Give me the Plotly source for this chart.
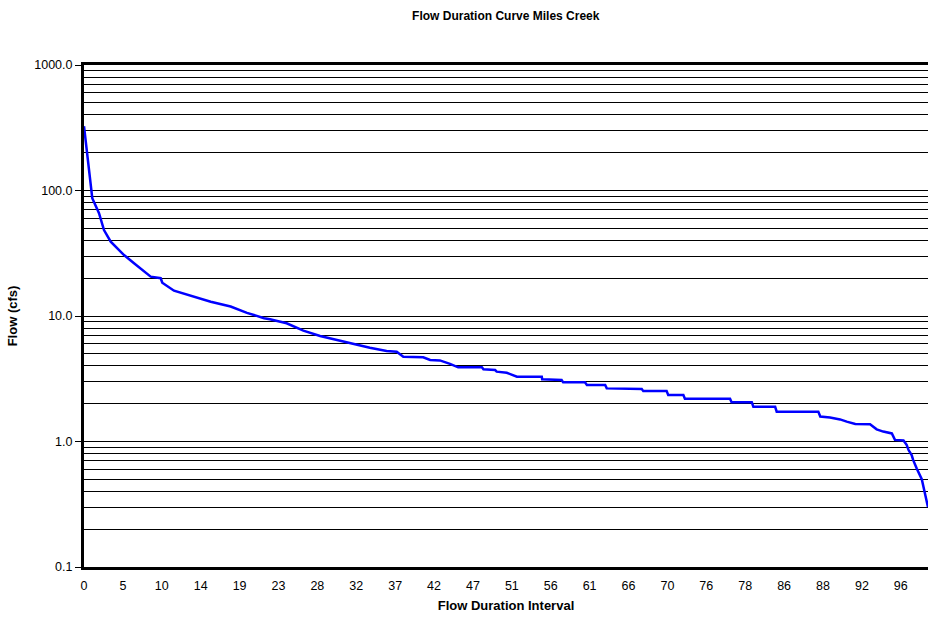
import plotly.graph_objects as go

# Readings of the sorted flow record: position along the ranked series (category index)
interval_index = [0, 0.85, 1.29, 2.13, 3.86, 5.14, 6.87, 10.29, 12.86, 15.43, 17.15, 19.72, 20.13,
                  23.14, 27.44, 32.58, 37.7, 41.9, 46.3, 47.8, 52.1, 56.4, 60.7, 65.0, 69.2, 73.5,
                  77.8, 80.4, 82.1, 87.2, 89.0, 91.5, 94.1, 96.2, 102.3, 102.7, 105.7, 106.1, 108.7,
                  111.3, 117.7, 117.8, 122.8, 123.2, 128.8, 129.3, 134.0, 134.4, 143.4, 143.8, 149.8,
                  150.2, 154.1, 154.5, 166.1, 166.5, 171.7, 172.1, 177.7, 178.1, 188.8, 189.3, 191.8,
                  194.4, 196.1, 198.3, 202.1, 203.0, 203.8, 205.5, 207.7, 208.5, 210.7, 211.5, 212.0,
                  212.8, 213.2, 214.1, 215.4, 217]
flow_cfs = [325, 198, 137, 86.8, 65.9, 48.4, 39.1, 30.6, 26.3, 22.5, 20.6, 20.0, 18.4,
            15.9, 14.5, 13.0, 11.9, 10.6, 9.6, 9.41, 8.75, 7.64, 6.93, 6.44, 6.06, 5.58,
            5.26, 5.20, 4.74, 4.69, 4.46, 4.43, 4.15, 3.90, 3.90, 3.76, 3.71, 3.60, 3.53,
            3.28, 3.28, 3.13, 3.09, 2.96, 2.96, 2.82, 2.82, 2.65, 2.62, 2.52, 2.52,
            2.35, 2.35, 2.19, 2.19, 2.05, 2.05, 1.89, 1.89, 1.73, 1.73, 1.58, 1.55,
            1.50, 1.44, 1.38, 1.37, 1.31, 1.25, 1.20, 1.16, 1.03, 1.02, 0.94, 0.855,
            0.78, 0.71, 0.61, 0.50, 0.30]

# Category axis labels (every 10th category)
x_tick_index = [0, 10, 20, 30, 40, 50, 60, 70, 80, 90, 100, 110, 120, 130, 140, 150, 160, 170,
                180, 190, 200, 210]
x_tick_labels = ["0", "5", "10", "14", "19", "23", "28", "32", "37", "42", "47", "51", "56", "61",
                 "66", "70", "76", "78", "86", "88", "92", "96"]
n_categories = 217

y_major = [0.1, 1, 10, 100, 1000]
y_major_labels = ["0.1", "1.0", "10.0", "100.0", "1000.0"]
y_minor = [m * d for d in [0.1, 1, 10, 100] for m in range(2, 10)]

font = "Liberation Sans, Arial, sans-serif"

fig = go.Figure()
fig.add_trace(go.Scatter(x=interval_index, y=flow_cfs, mode="lines",
                         line=dict(color="#0000FF", width=2.5), showlegend=False))

fig.update_layout(
    width=928, height=622,
    margin=dict(l=84, r=0, t=65, b=55),
    paper_bgcolor="white", plot_bgcolor="white",
    font=dict(family=font, size=12, color="black"),
    title=dict(text="<b>Flow Duration Curve Miles Creek</b>", x=0.545, xanchor="center",
               y=0.974, yanchor="middle", font=dict(family=font, size=12, color="black")),
)
fig.update_xaxes(
    range=[0, n_categories], tickmode="array", tickvals=x_tick_index, ticktext=x_tick_labels,
    showgrid=False, zeroline=False, ticks="", automargin=False, ticklabelstandoff=5,
    showline=True, linecolor="black", linewidth=3, mirror=True,
    title=dict(text="<b>Flow Duration Interval</b>", font=dict(family=font, size=13), standoff=9),
    tickfont=dict(family=font, size=12.5),
)
fig.update_yaxes(
    type="log", range=[-1, 3], tickmode="array", tickvals=y_major, ticktext=y_major_labels,
    showgrid=True, gridcolor="black", gridwidth=1, automargin=False,
    ticks="outside", ticklen=6, tickcolor="black", tickwidth=1,
    showline=True, linecolor="black", linewidth=3, zeroline=False,
    minor=dict(tickmode="array", tickvals=y_minor, showgrid=True, gridcolor="black",
               gridwidth=1, ticks=""),
    title=dict(text="<b>Flow (cfs)</b>", font=dict(family=font, size=13), standoff=14),
    tickfont=dict(family=font, size=12.5),
)

fig.write_html("out.html", config={"displayModeBar": False},
               post_script="document.body.style.margin='0';document.body.style.overflow='hidden';")
